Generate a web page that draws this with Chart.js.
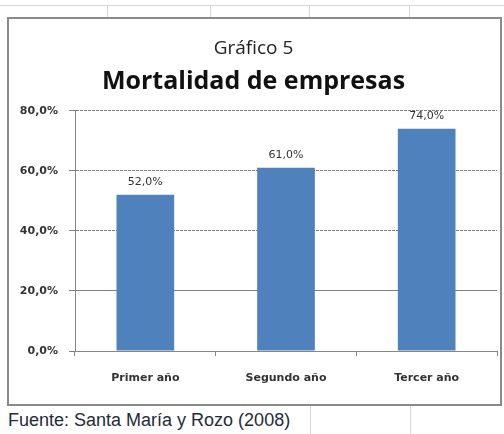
<!DOCTYPE html>
<html>
<head>
<meta charset="utf-8">
<script src="https://cdn.jsdelivr.net/npm/chart.js@4.4.1/dist/chart.umd.min.js"></script>
<style>
  body { margin: 0; background: #fff; width: 504px; height: 434px; overflow: hidden; position: relative; }
  .hl { position: absolute; height: 1px; background: #d4d7dc; }
  .vl { position: absolute; width: 1px; background: #d4d7dc; }
  #box { position: absolute; left: 7px; top: 17px; width: 491px; height: 385px; border: 2px solid #8a8a8a; background: #fff; }
  #box canvas { position: absolute; left: 1px; top: 1px; }
  #fuente { position: absolute; left: 8px; top: 410px; font: 18px "Liberation Sans", Arial, sans-serif; line-height: 20px; color: #1f2a3a; white-space: nowrap; }
</style>
</head>
<body>
<div class="hl" style="left:0;top:5px;width:504px"></div>
<div class="vl" style="left:107px;top:5px;height:12px"></div>
<div class="vl" style="left:210px;top:5px;height:12px"></div>
<div class="vl" style="left:309px;top:5px;height:12px"></div>
<div class="vl" style="left:409px;top:5px;height:12px"></div>
<div class="vl" style="left:310px;top:406px;height:28px"></div>
<div class="vl" style="left:410px;top:406px;height:28px"></div>
<div id="box"><canvas id="chart" width="489" height="383"></canvas></div>
<div id="fuente">Fuente: Santa María y Rozo (2008)</div>
<script>
const categories = ['Primer año', 'Segundo año', 'Tercer año'];
const mortalidad = [52.0, 61.0, 74.0];
const yTicks = [0, 20, 40, 60, 80];

function pct(v) {
    return v.toFixed(1).replace('.', ',') + '%';
}

const labelFont = { family: '"DejaVu Sans", Verdana, sans-serif', size: 11, weight: 'bold' };

const barLabels = {
    id: 'barLabels',
    afterDatasetsDraw(chart) {
        const ctx = chart.ctx;
        ctx.save();
        ctx.font = '11px "DejaVu Sans", Verdana, sans-serif';
        ctx.fillStyle = '#333';
        ctx.textAlign = 'center';
        ctx.textBaseline = 'bottom';
        chart.getDatasetMeta(0).data.forEach((bar, i) => {
            ctx.fillText(pct(mortalidad[i]), bar.x, bar.y - 7);
        });
        ctx.restore();
    }
};

const ctx1 = document.getElementById('chart').getContext('2d');
const chart = new Chart(ctx1, {
    type: 'bar',
    data: {
        labels: categories,
        datasets: [{
            data: mortalidad,
            backgroundColor: '#4f81bd',
            borderWidth: 0,
            categoryPercentage: 1,
            barPercentage: 0.41
        }]
    },
    options: {
        responsive: false,
        animation: false,
        layout: { padding: { left: 0, right: 2, top: 0, bottom: 0 } },
        plugins: {
            legend: { display: false },
            tooltip: { enabled: false },
            title: {
                display: true,
                text: 'Gráfico 5',
                color: '#222',
                font: { family: '"Open Sans", sans-serif', size: 19, weight: 'normal' },
                padding: { top: 17, bottom: 7 }
            },
            subtitle: {
                display: true,
                text: 'Mortalidad de empresas',
                color: '#111',
                font: { family: '"Open Sans", sans-serif', size: 25, weight: 'bold' },
                padding: { top: 0, bottom: 14 }
            }
        },
        scales: {
            x: {
                grid: { display: true, drawOnChartArea: false, drawTicks: true, tickLength: 5, offset: true, color: '#868686' },
                border: { color: '#868686', width: 1 },
                ticks: { color: '#333', font: labelFont, padding: 16 },
                afterFit(scale) { scale.height = 52; }
            },
            y: {
                min: 0,
                max: 80,
                afterBuildTicks(scale) { scale.ticks = yTicks.map(v => ({ value: v })); },
                grid: { color: '#7f7f7f', tickLength: 6, lineWidth: 1 },
                border: {
                    color: '#868686',
                    width: 1,
                    dash: c => (c.tick && c.tick.value === 20) ? [] : [3, 1]
                },
                ticks: { color: '#333', font: labelFont, padding: 11, callback: v => pct(v) },
                afterFit(scale) { scale.width = 65; }
            }
        }
    },
    plugins: [barLabels]
});
</script>
</body>
</html>
